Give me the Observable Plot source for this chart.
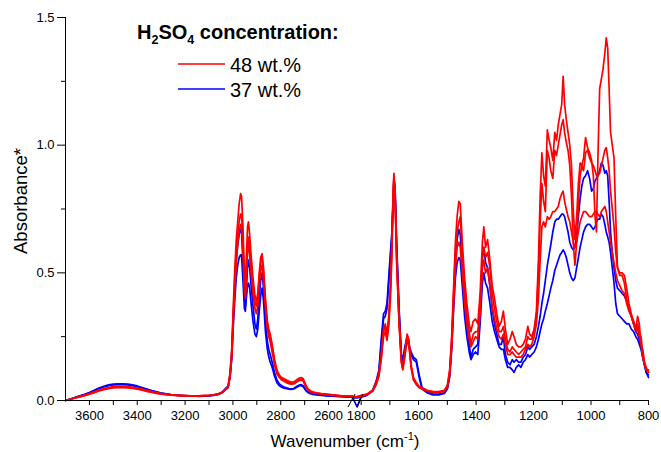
<!DOCTYPE html>
<html><head><meta charset="utf-8">
<script src="https://cdn.jsdelivr.net/npm/d3@7"></script>
<script src="https://cdn.jsdelivr.net/npm/@observablehq/plot@0.6"></script>
<style>
body{margin:0;background:#fff;}
#chart{position:relative;width:661px;height:452px;}
</style></head><body><div id="chart"></div>
<script>
// ---- Data: wavenumber grids (cm-1) for the two axis segments ----
const wnHigh = [3700,3680,3660,3640,3620,3600,3580,3560,3540,3520,3500,3480,3460,3440,3420,3400,3380,3360,3340,3320,3300,3280,3260,3240,3220,3200,3180,3160,3140,3120,3100,3080,3060,3045,3030,3020,3012,3005,2998,2992,2986,2980,2974,2968,2964,2958,2952,2948,2944,2939,2935,2930,2924,2916,2908,2902,2896,2890,2884,2878,2872,2864,2856,2850,2844,2836,2826,2816,2806,2796,2786,2776,2766,2756,2746,2738,2730,2722,2714,2706,2696,2686,2676,2666,2650,2630,2610,2590,2570,2550,2530,2510,2500];
const wnLow = [1830,1814,1800,1780,1760,1748,1738,1730,1722,1716,1710,1704,1698,1693,1689,1686,1682,1676,1668,1660,1655,1648,1640,1634,1626,1618,1608,1598,1588,1570,1550,1530,1510,1500,1492,1485,1478,1472,1466,1460,1455,1448,1440,1432,1424,1418,1410,1402,1394,1386,1378,1373,1367,1360,1352,1344,1336,1328,1320,1312,1305,1298,1290,1282,1274,1268,1260,1252,1244,1236,1228,1220,1214,1206,1198,1190,1183,1177,1171,1165,1159,1152,1146,1140,1133,1126,1120,1114,1108,1102,1097,1092,1086,1080,1074,1068,1062,1056,1050,1044,1038,1032,1026,1019,1012,1005,998,992,986,981,976,970,964,958,952,947,942,937,932,926,920,914,908,900,892,884,876,868,860,852,844,838,832,826,820,814,808,800];

// ---- 48 wt.% spectra (red) ----
const r1High = [0.000,0.005,0.010,0.014,0.019,0.025,0.031,0.037,0.042,0.046,0.049,0.050,0.050,0.049,0.047,0.044,0.040,0.036,0.032,0.028,0.025,0.023,0.021,0.020,0.019,0.018,0.018,0.018,0.018,0.019,0.020,0.022,0.026,0.033,0.046,0.055,0.110,0.200,0.380,0.520,0.630,0.700,0.770,0.810,0.800,0.680,0.500,0.460,0.550,0.680,0.700,0.650,0.570,0.480,0.410,0.390,0.420,0.500,0.560,0.575,0.520,0.400,0.310,0.280,0.260,0.220,0.160,0.120,0.100,0.090,0.085,0.080,0.075,0.072,0.073,0.078,0.083,0.088,0.090,0.085,0.062,0.045,0.038,0.034,0.030,0.027,0.025,0.023,0.021,0.019,0.018,0.017,0.017];
const r2High = [0.000,0.005,0.010,0.015,0.020,0.026,0.032,0.039,0.045,0.049,0.052,0.053,0.053,0.052,0.050,0.047,0.043,0.038,0.034,0.030,0.026,0.024,0.022,0.020,0.019,0.019,0.018,0.018,0.018,0.019,0.020,0.022,0.026,0.032,0.044,0.052,0.100,0.190,0.350,0.480,0.580,0.650,0.700,0.730,0.730,0.620,0.460,0.430,0.500,0.620,0.640,0.600,0.530,0.450,0.390,0.370,0.400,0.480,0.540,0.560,0.500,0.380,0.300,0.270,0.250,0.210,0.150,0.110,0.095,0.085,0.080,0.075,0.070,0.068,0.069,0.073,0.078,0.082,0.084,0.080,0.058,0.042,0.036,0.032,0.029,0.026,0.024,0.022,0.020,0.018,0.017,0.016,0.016];
const r3High = [0.000,0.005,0.010,0.016,0.021,0.027,0.034,0.041,0.047,0.051,0.054,0.055,0.055,0.054,0.052,0.049,0.045,0.040,0.035,0.031,0.027,0.024,0.022,0.021,0.020,0.019,0.018,0.018,0.018,0.019,0.020,0.022,0.025,0.031,0.043,0.050,0.095,0.170,0.320,0.440,0.540,0.610,0.660,0.690,0.690,0.580,0.430,0.400,0.470,0.580,0.610,0.570,0.500,0.420,0.360,0.340,0.370,0.450,0.510,0.530,0.470,0.360,0.280,0.250,0.230,0.190,0.140,0.105,0.090,0.080,0.075,0.070,0.066,0.064,0.065,0.069,0.074,0.078,0.080,0.076,0.055,0.040,0.034,0.031,0.028,0.025,0.023,0.021,0.019,0.018,0.017,0.016,0.016];
const r1Low = [0.015,0.015,0.020,0.025,0.040, 0.070,0.110,0.180,0.280,0.300, 0.260,0.330,0.450,0.620,0.800, 0.890,0.820,0.550,0.320,0.160, 0.130,0.190,0.260,0.240,0.140, 0.090,0.070,0.055,0.050,0.040, 0.035,0.035,0.040,0.060,0.120, 0.250,0.450,0.620,0.720,0.780, 0.770,0.620,0.480,0.380,0.300, 0.270,0.310,0.320,0.300,0.420, 0.620,0.680,0.600,0.630,0.550, 0.450,0.400,0.340,0.290,0.310, 0.350,0.280,0.220,0.240,0.270, 0.250,0.220,0.210,0.210,0.220, 0.240,0.290,0.260,0.250,0.280, 0.350,0.550,0.800,0.970,0.880, 0.840,1.060,1.020,0.990,0.940, 1.050,1.020,1.080,1.120,1.160, 1.270,1.160,1.100,1.050,1.000, 0.920,0.750,0.630,0.720,0.850, 0.930,0.920,0.950,1.030,0.990, 0.970,0.940,0.880,0.720,0.660, 0.950,1.220,1.260,1.300,1.360, 1.420,1.380,1.220,1.050,1.000, 0.950,0.720,0.520,0.500,0.500, 0.490,0.440,0.380,0.340,0.310, 0.280,0.330,0.300,0.220,0.200, 0.150,0.130,0.110];
const r2Low = [0.014,0.014,0.018,0.024,0.038, 0.065,0.100,0.170,0.270,0.290, 0.240,0.310,0.430,0.600,0.790, 0.880,0.810,0.540,0.310,0.150, 0.125,0.180,0.250,0.230,0.130, 0.085,0.065,0.052,0.047,0.038, 0.034,0.034,0.038,0.055,0.110, 0.230,0.420,0.580,0.660,0.700, 0.720,0.580,0.440,0.340,0.270, 0.220,0.260,0.270,0.270,0.360, 0.560,0.600,0.560,0.580,0.520, 0.420,0.360,0.310,0.270,0.270, 0.290,0.240,0.200,0.190,0.210, 0.200,0.190,0.180,0.190,0.200, 0.210,0.250,0.240,0.240,0.270, 0.330,0.500,0.700,0.850,0.780, 0.740,0.980,0.950,0.900,0.870, 0.980,0.960,1.000,1.040,1.080, 1.100,1.050,1.010,0.980,0.920, 0.800,0.620,0.530,0.620,0.780, 0.880,0.920,0.900,0.970,0.980, 0.950,0.930,0.920,0.900,0.880, 0.880,0.890,0.920,0.950,0.980, 0.990,0.950,0.900,0.820,0.750, 0.680,0.580,0.520,0.490,0.490, 0.460,0.400,0.360,0.330,0.310, 0.270,0.300,0.260,0.250,0.180, 0.150,0.120,0.120];
const r3Low = [0.013,0.013,0.017,0.022,0.036, 0.060,0.095,0.160,0.250,0.270, 0.235,0.290,0.400,0.570,0.770, 0.860,0.800,0.530,0.300,0.150, 0.120,0.170,0.240,0.220,0.130, 0.080,0.062,0.050,0.045,0.037, 0.032,0.032,0.036,0.050,0.100, 0.200,0.380,0.520,0.600,0.620, 0.600,0.500,0.380,0.300,0.240, 0.210,0.230,0.250,0.240,0.340, 0.520,0.550,0.500,0.520,0.450, 0.370,0.320,0.280,0.250,0.240, 0.260,0.220,0.180,0.180,0.190, 0.180,0.170,0.170,0.170,0.180, 0.200,0.220,0.210,0.220,0.250, 0.300,0.400,0.550,0.680,0.700, 0.680,0.720,0.710,0.720,0.740, 0.740,0.750,0.760,0.790,0.810, 0.820,0.780,0.750,0.720,0.700, 0.660,0.620,0.600,0.620,0.660, 0.700,0.720,0.740,0.740,0.730, 0.720,0.720,0.730,0.740,0.740, 0.730,0.720,0.740,0.750,0.760, 0.740,0.700,0.660,0.620,0.580, 0.540,0.500,0.470,0.450,0.430, 0.420,0.380,0.350,0.330,0.300, 0.270,0.280,0.250,0.220,0.170, 0.140,0.120,0.110];

// ---- 37 wt.% spectra (blue) ----
const b1High = [0.000,0.006,0.012,0.017,0.023,0.030,0.038,0.046,0.053,0.058,0.061,0.062,0.062,0.061,0.058,0.054,0.049,0.044,0.038,0.033,0.029,0.026,0.023,0.021,0.020,0.019,0.018,0.017,0.017,0.018,0.019,0.021,0.025,0.032,0.048,0.056,0.100,0.180,0.340,0.450,0.550,0.610,0.650,0.670,0.660,0.540,0.400,0.370,0.430,0.520,0.550,0.520,0.450,0.370,0.300,0.280,0.320,0.400,0.470,0.500,0.440,0.310,0.230,0.200,0.180,0.150,0.110,0.080,0.065,0.058,0.053,0.050,0.047,0.046,0.047,0.052,0.057,0.061,0.062,0.058,0.042,0.033,0.029,0.026,0.024,0.022,0.020,0.018,0.017,0.016,0.015,0.014,0.014];
const b2High = [0.000,0.006,0.012,0.018,0.024,0.031,0.040,0.049,0.056,0.061,0.064,0.065,0.065,0.064,0.061,0.057,0.051,0.045,0.039,0.034,0.029,0.026,0.023,0.021,0.019,0.018,0.017,0.017,0.016,0.017,0.018,0.020,0.024,0.031,0.046,0.054,0.090,0.160,0.300,0.400,0.480,0.530,0.560,0.570,0.570,0.470,0.360,0.350,0.400,0.450,0.460,0.440,0.380,0.310,0.260,0.250,0.280,0.350,0.410,0.440,0.390,0.270,0.200,0.170,0.150,0.130,0.095,0.070,0.058,0.052,0.048,0.046,0.044,0.043,0.045,0.049,0.054,0.058,0.058,0.054,0.040,0.031,0.027,0.024,0.022,0.020,0.018,0.017,0.016,0.015,0.014,0.013,0.013];
const b1Low = [0.012,-0.025,0.015,0.022,0.040, 0.075,0.120,0.240,0.340,0.350, 0.380,0.480,0.580,0.660,0.780, 0.870,0.840,0.600,0.360,0.180, 0.160,0.210,0.250,0.220,0.190, 0.170,0.160,0.100,0.050,0.035, 0.025,0.025,0.030,0.050,0.100, 0.220,0.400,0.550,0.630,0.670, 0.650,0.520,0.400,0.300,0.220, 0.170,0.200,0.210,0.220,0.360, 0.560,0.600,0.540,0.520,0.450, 0.360,0.300,0.260,0.220,0.220, 0.250,0.180,0.150,0.140,0.160, 0.150,0.160,0.150,0.150,0.170, 0.180,0.210,0.200,0.210,0.220, 0.250,0.290,0.330,0.380,0.420, 0.470,0.530,0.570,0.610,0.660, 0.700,0.710,0.710,0.720,0.730, 0.730,0.720,0.690,0.660,0.620, 0.600,0.590,0.600,0.650,0.720, 0.790,0.840,0.870,0.880,0.900, 0.870,0.820,0.830,0.860,0.870, 0.880,0.900,0.930,0.920,0.890, 0.900,0.880,0.780,0.660,0.580, 0.520,0.470,0.440,0.430,0.420, 0.410,0.390,0.360,0.330,0.300, 0.270,0.260,0.240,0.210,0.170, 0.140,0.110,0.100];
const b2Low = [0.010,0.010,0.013,0.020,0.038, 0.070,0.110,0.220,0.320,0.330, 0.360,0.460,0.560,0.640,0.760, 0.850,0.830,0.590,0.350,0.170, 0.150,0.200,0.240,0.210,0.180, 0.160,0.150,0.090,0.045,0.030, 0.022,0.022,0.028,0.045,0.090, 0.200,0.360,0.480,0.540,0.560, 0.550,0.450,0.330,0.250,0.190, 0.160,0.180,0.190,0.180,0.300, 0.460,0.500,0.460,0.440,0.380, 0.310,0.270,0.240,0.210,0.200, 0.200,0.160,0.130,0.130,0.120, 0.110,0.130,0.140,0.130,0.150, 0.160,0.180,0.170,0.180,0.190, 0.210,0.240,0.270,0.300,0.320, 0.350,0.380,0.410,0.440,0.470, 0.510,0.530,0.550,0.570,0.580, 0.590,0.580,0.560,0.530,0.500, 0.480,0.470,0.480,0.520,0.560, 0.600,0.630,0.660,0.680,0.690, 0.690,0.680,0.670,0.680,0.700, 0.710,0.710,0.730,0.720,0.690, 0.660,0.640,0.620,0.580,0.520, 0.460,0.380,0.340,0.330,0.320, 0.310,0.300,0.300,0.280,0.270, 0.250,0.240,0.220,0.200,0.170, 0.140,0.110,0.090];

// ---- Legend / axis labels ----
const concLabels = ["48 wt.%", "37 wt.%"];
const concColors = ["#ff0000", "#0000ff"];
const xTicksMajor = [3600,3400,3200,3000,2800,2600,1800,1600,1400,1200,1000,800];
const xTicksMinor = [3500,3300,3100,2900,2700,1700,1500,1300,1100,900];
const yTicksMajor = [0, 0.5, 1.0, 1.5];
const yTicksMinor = [0.25, 0.75, 1.25];
const xSegments = [[3700, 2500], [1830, 800]];

// blue drawn first, red on top
const spectra = [
  {id: "b1", conc: "37 wt.%", high: b1High, low: b1Low},
  {id: "b2", conc: "37 wt.%", high: b2High, low: b2Low},
  {id: "r3", conc: "48 wt.%", high: r3High, low: r3Low},
  {id: "r2", conc: "48 wt.%", high: r2High, low: r2Low},
  {id: "r1", conc: "48 wt.%", high: r1High, low: r1Low}
];
const rows = [];
for (const s of spectra) {
  wnHigh.forEach((w, i) => rows.push({wn: w, a: s.high[i], key: s.id + "-high", conc: s.conc}));
  wnLow.forEach((w, i) => rows.push({wn: w, a: s.low[i], key: s.id + "-low", conc: s.conc}));
}

const W = 661, H = 452, mL = 65, mR = 13, mT = 17, mB = 52;
const brk = mL + (W - mL - mR) * 0.4923;
const FONT = "'Liberation Sans', Arial, Helvetica, sans-serif";

const chart = Plot.plot({
  width: W, height: H,
  marginLeft: mL, marginRight: mR, marginTop: mT, marginBottom: mB,
  style: {fontFamily: FONT, fontSize: "13px", color: "#000", background: "#fff", overflow: "visible"},
  x: {type: "linear", domain: [xSegments[0][0], xSegments[0][1], xSegments[1][0], xSegments[1][1]], range: [mL, brk, brk, W - mR]},
  y: {domain: [0, 1.5]},
  color: {domain: concLabels, range: concColors},
  marks: [
    Plot.line(rows, {x: "wn", y: "a", z: "key", stroke: "conc", strokeWidth: 1.7}),
    Plot.ruleY([0], {stroke: "#000", strokeWidth: 1}),
    Plot.ruleX([xSegments[0][0]], {stroke: "#000", strokeWidth: 1}),
    Plot.axisX({ticks: xTicksMajor, tickSize: 5, tickPadding: 5, tickFormat: d => String(d), label: null}),
    Plot.axisX({ticks: xTicksMinor, tickSize: 5, tickFormat: () => "", label: null}),
    Plot.axisY({ticks: yTicksMajor, tickSize: 8, tickPadding: 3, tickFormat: d => d.toFixed(1), label: null}),
    Plot.axisY({ticks: yTicksMinor, tickSize: 4, tickFormat: () => "", label: null})
  ]
});
document.getElementById("chart").appendChild(chart);

// ---- decorations: axis break, legend, axis titles ----
const svg = d3.select(chart);
const xs = chart.scale("x"), ys = chart.scale("y");
const bx = xs.apply(xSegments[0][1]);
const by = ys.apply(0);
const deco = svg.append("g").attr("stroke", "#000").attr("stroke-width", 1);
[[-4, 3], [5, 11]].forEach(([a, b]) => {
  deco.append("line").attr("x1", bx + a).attr("y1", by + 7).attr("x2", bx + b).attr("y2", by - 6);
});

const leg = svg.append("g").attr("font-family", FONT).attr("fill", "#000").attr("text-anchor", "start");
const t = leg.append("text").attr("x", 137).attr("y", 39).attr("font-size", 20).attr("font-weight", "bold");
t.append("tspan").text("H");
t.append("tspan").attr("font-size", 12.5).attr("dy", 5).text("2");
t.append("tspan").attr("dy", -5).text("SO");
t.append("tspan").attr("font-size", 12.5).attr("dy", 5).text("4");
t.append("tspan").attr("dy", -5).text(" concentration:");
concLabels.forEach((lab, i) => {
  const yy = 64 + i * 25;
  leg.append("line").attr("x1", 178).attr("x2", 225).attr("y1", yy).attr("y2", yy)
     .attr("stroke", concColors[i]).attr("stroke-width", 1.5);
  leg.append("text").attr("x", 230).attr("y", yy + 7.5).attr("font-size", 20).text(lab);
});

const xt = svg.append("text").attr("font-family", FONT).attr("font-size", 17)
  .attr("text-anchor", "middle").attr("x", 345).attr("y", 447).attr("fill", "#000");
xt.append("tspan").text("Wavenumber (cm");
xt.append("tspan").attr("font-size", 11).attr("dy", -7).text("-1");
xt.append("tspan").attr("dy", 7).text(")");

svg.append("text").attr("font-family", FONT).attr("font-size", 18.5)
  .attr("text-anchor", "middle").attr("transform", "translate(27,201) rotate(-90)")
  .attr("fill", "#000").text("Absorbance*");
</script>
</body></html>
